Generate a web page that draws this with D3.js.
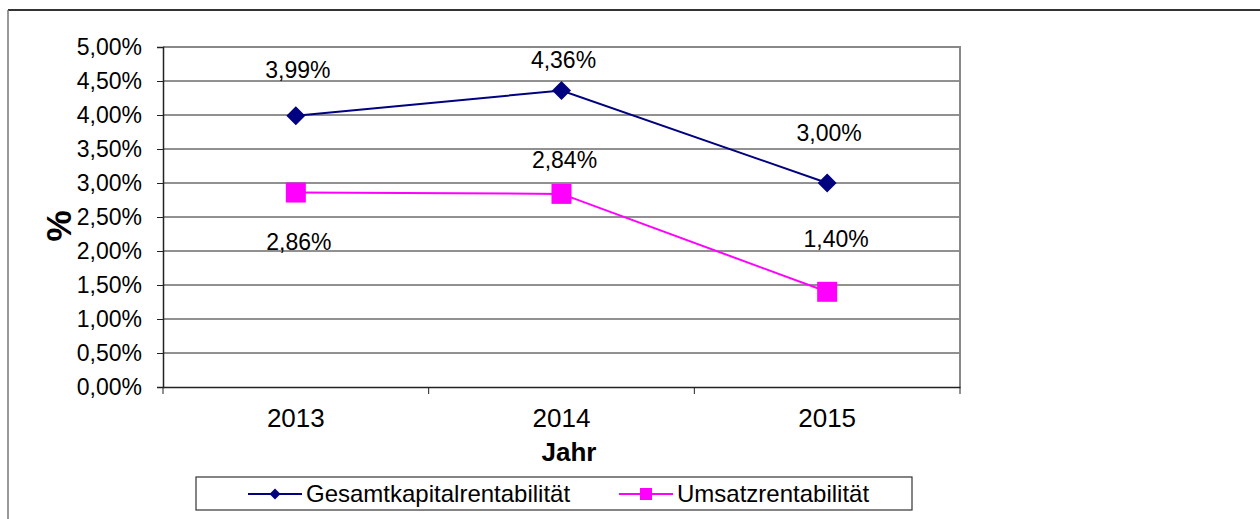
<!DOCTYPE html>
<html>
<head>
<meta charset="utf-8">
<script src="https://cdn.jsdelivr.net/npm/d3@7"></script>
<style>
  body { margin: 0; background: #fff; }
  svg { display: block; font-family: "Liberation Sans", Arial, sans-serif; }
</style>
</head>
<body>
<div class="chart"></div>
<script>
const years = ['2013', '2014', '2015'];
const gesamt = [3.99, 4.36, 3.00];
const umsatz = [2.86, 2.84, 1.40];
// where Excel put the data labels, in % units
const gesamtLabelAt = [4.66, 4.81, 3.74];
const umsatzLabelAt = [2.13, 3.34, 2.18];
const yTicks = [0, 0.5, 1, 1.5, 2, 2.5, 3, 3.5, 4, 4.5, 5];

const fmt = v => v.toFixed(2).replace('.', ',') + '%';

const width = 1260, height = 519;
const svg = d3.select('.chart').append('svg')
  .attr('width', width)
  .attr('height', height);

// outer frame (only top and left are visible)
svg.append('line').attr('x1', 8).attr('x2', width).attr('y1', 10).attr('y2', 10)
  .attr('stroke', '#333').attr('stroke-width', 2);
svg.append('line').attr('x1', 8).attr('x2', 8).attr('y1', 10).attr('y2', height)
  .attr('stroke', '#777').attr('stroke-width', 1.5);

const x = d3.scaleBand().domain(years).range([163, 960]);
const y = d3.scaleLinear().domain([0, 5]).range([387, 47]);
const cx = d => x(d) + x.bandwidth() / 2;

// gridlines
svg.append('g')
  .selectAll('line')
  .data(yTicks.slice(1))
  .enter()
  .append('line')
  .attr('x1', 163)
  .attr('x2', 960)
  .attr('y1', d => y(d))
  .attr('y2', d => y(d))
  .attr('stroke', d => (d === 5 ? '#888' : '#222'))
  .attr('stroke-width', d => (d === 5 ? 2 : 1));

// right border of plot area
svg.append('line').attr('x1', 960).attr('x2', 960).attr('y1', 46).attr('y2', 387)
  .attr('stroke', '#888').attr('stroke-width', 2);

// y axis
const yAxis = svg.append('g')
  .attr('transform', 'translate(163,0)')
  .call(d3.axisLeft(y).tickValues(yTicks).tickFormat(fmt).tickSize(6).tickPadding(15));
yAxis.select('.domain').attr('stroke', '#222').attr('stroke-width', 1.5);
yAxis.selectAll('.tick line').attr('stroke', '#222');
yAxis.selectAll('text').attr('font-size', 23).attr('fill', '#000')
  .attr('font-family', '"Liberation Sans", Arial, sans-serif');

// x axis
const xAxis = svg.append('g')
  .attr('transform', 'translate(0,387)')
  .call(d3.axisBottom(x).tickSize(0).tickPadding(22));
xAxis.select('.domain').attr('stroke', '#222').attr('stroke-width', 1.5);
xAxis.selectAll('text').attr('font-size', 26).attr('fill', '#000')
  .attr('font-family', '"Liberation Sans", Arial, sans-serif');

// category separator ticks
const edges = years.map(d => x(d)).concat([x.range()[1]]);
svg.append('g')
  .selectAll('line')
  .data(edges)
  .enter()
  .append('line')
  .attr('x1', d => d)
  .attr('x2', d => d)
  .attr('y1', 387)
  .attr('y2', 394)
  .attr('stroke', '#222');

// axis titles
svg.append('text')
  .attr('x', 569).attr('y', 461)
  .attr('text-anchor', 'middle')
  .attr('font-size', 26).attr('font-weight', 'bold')
  .text('Jahr');
svg.append('text')
  .attr('transform', 'translate(71,226) rotate(-90)')
  .attr('text-anchor', 'middle')
  .attr('font-size', 35).attr('font-weight', 'bold')
  .text('%');

const line = d3.line().x((d, i) => cx(years[i])).y(d => y(d));

// series lines
svg.append('path').datum(gesamt).attr('d', line)
  .attr('fill', 'none').attr('stroke', '#000080').attr('stroke-width', 2);
svg.append('path').datum(umsatz).attr('d', line)
  .attr('fill', 'none').attr('stroke', '#ff00ff').attr('stroke-width', 2);

// markers
svg.append('g')
  .selectAll('path')
  .data(gesamt)
  .enter()
  .append('path')
  .attr('d', d3.symbol().type(d3.symbolSquare).size(180))
  .attr('transform', (d, i) => `translate(${cx(years[i])},${y(d)}) rotate(45)`)
  .attr('fill', '#000080');

svg.append('g')
  .selectAll('rect')
  .data(umsatz)
  .enter()
  .append('rect')
  .attr('x', (d, i) => cx(years[i]) - 10)
  .attr('y', d => y(d) - 10)
  .attr('width', 20)
  .attr('height', 20)
  .attr('fill', '#ff00ff');

// data labels
svg.append('g')
  .selectAll('text')
  .data(gesamt)
  .enter()
  .append('text')
  .attr('x', (d, i) => cx(years[i]) + 2)
  .attr('y', (d, i) => y(gesamtLabelAt[i]))
  .attr('dy', '0.35em')
  .attr('text-anchor', 'middle')
  .attr('font-size', 23)
  .text(d => fmt(d));

svg.append('g')
  .selectAll('text')
  .data(umsatz)
  .enter()
  .append('text')
  .attr('x', (d, i) => cx(years[i]) + (i === 2 ? 9 : 3))
  .attr('y', (d, i) => y(umsatzLabelAt[i]))
  .attr('dy', '0.35em')
  .attr('text-anchor', 'middle')
  .attr('font-size', 23)
  .text(d => fmt(d));

// legend
const legend = svg.append('g');
legend.append('rect')
  .attr('x', 196).attr('y', 477).attr('width', 716).attr('height', 33)
  .attr('fill', '#fff').attr('stroke', '#333').attr('stroke-width', 1.2);

const legendItems = [
  { name: 'Gesamtkapitalrentabilität', color: '#000080', shape: 'diamond', x0: 248 },
  { name: 'Umsatzrentabilität', color: '#ff00ff', shape: 'square', x0: 619 }
];
legendItems.forEach(item => {
  legend.append('line')
    .attr('x1', item.x0).attr('x2', item.x0 + 54)
    .attr('y1', 494).attr('y2', 494)
    .attr('stroke', item.color).attr('stroke-width', 2);
  if (item.shape === 'diamond') {
    legend.append('path')
      .attr('d', d3.symbol().type(d3.symbolSquare).size(60))
      .attr('transform', `translate(${item.x0 + 27},494) rotate(45)`)
      .attr('fill', item.color);
  } else {
    legend.append('rect')
      .attr('x', item.x0 + 21).attr('y', 488).attr('width', 12).attr('height', 12)
      .attr('fill', item.color);
  }
  legend.append('text')
    .attr('x', item.x0 + 58).attr('y', 494)
    .attr('dy', '0.35em')
    .attr('font-size', 24)
    .text(item.name);
});
</script>
</body>
</html>
